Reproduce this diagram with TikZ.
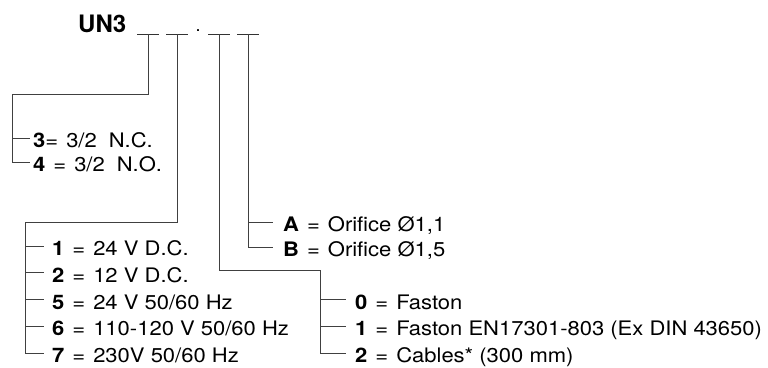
\documentclass[tikz,border=0pt]{standalone}
\usepackage{fontspec}
\setmainfont{TeX Gyre Heros}
\newfontfamily\lblfont[FakeStretch=1.1]{TeX Gyre Heros}
\newcommand{\iseq}{\hspace{0.4em}=\hspace{0.4em}}
\usetikzlibrary{positioning}

\begin{document}
\begin{tikzpicture}[x=1pt,y=-1pt,
  wire/.style={draw=black!75,line width=0.9pt},
  slot/.style={draw=black!80,line width=1pt},
  lbl/.style={anchor=west,inner sep=0pt,text height=19pt,text depth=0pt,
    font=\lblfont\fontsize{20}{24}\selectfont}]
  \useasboundingbox (0,0) rectangle (768,367);

  \node[anchor=base west,inner sep=0pt,font=\bfseries\fontsize{24}{28}\selectfont] (code) at (78,32) {UN3};
  \node[anchor=base,inner sep=0pt,font=\fontsize{18}{22}\selectfont] (dot) at (198,31) {.};

  \draw[slot] (137,34) -- (159,34);
  \draw[slot] (166,34) -- (188,34);
  \draw[slot] (208,34) -- (230,34);
  \draw[slot] (237,34) -- (259,34);
  \coordinate (d1) at (148,34);
  \coordinate (d2) at (177,34);
  \coordinate (d3) at (219,34);
  \coordinate (d4) at (248,34);

  % function
  \coordinate (k1) at (12,94);
  \node[lbl] (v3) at (33,138) {\textbf{3}=\hspace{0.4em}3/2\hspace{0.6em}N.C.};
  \node[lbl] (v4) at (33,162) {\textbf{4}\iseq 3/2\hspace{0.6em}N.O.};
  \draw[wire] (d1) |- (k1) |- ([xshift=-3pt]v4.west);
  \draw[wire] (k1 |- v3.west) -- ([xshift=-3pt]v3.west);

  % voltage
  \coordinate (k2) at (25,222);
  \node[lbl] (p1) at (52,246) {\textbf{1}\iseq 24 V D.C.};
  \node[lbl] (p2) at (52,272.75) {\textbf{2}\iseq 12 V D.C.};
  \node[lbl] (p5) at (52,299.5) {\textbf{5}\iseq 24 V 50/60 Hz};
  \node[lbl] (p6) at (52,326.25) {\textbf{6}\iseq 110-120 V 50/60 Hz};
  \node[lbl] (p7) at (52,353) {\textbf{7}\iseq 230V 50/60 Hz};
  \draw[wire] (d2) |- (k2) |- ([xshift=-8pt]p7.west);
  \draw[wire] (k2 |- p1.west) -- ([xshift=-8pt]p1.west);
  \draw[wire] (k2 |- p2.west) -- ([xshift=-8pt]p2.west);
  \draw[wire] (k2 |- p5.west) -- ([xshift=-8pt]p5.west);
  \draw[wire] (k2 |- p6.west) -- ([xshift=-8pt]p6.west);

  % connection
  \coordinate (k3) at (320,270);
  \node[lbl] (c0) at (355,299.5) {\textbf{0}\iseq Faston};
  \node[lbl] (c1) at (355,326.25) {\textbf{1}\iseq Faston EN17301-803 (Ex DIN 43650)};
  \node[lbl] (c2) at (355,353) {\textbf{2}\iseq Cables* (300 mm)};
  \draw[wire] (d3) |- (k3) |- ([xshift=-9pt]c2.west);
  \draw[wire] (k3 |- c0.west) -- ([xshift=-9pt]c0.west);
  \draw[wire] (k3 |- c1.west) -- ([xshift=-9pt]c1.west);

  % orifice
  \node[lbl] (rA) at (283,222) {\textbf{A}\iseq Orifice Ø1,1};
  \node[lbl] (rB) at (283,247) {\textbf{B}\iseq Orifice Ø1,5};
  \draw[wire] (d4) |- ([xshift=-10pt]rB.west);
  \draw[wire] (d4 |- rA.west) -- ([xshift=-10pt]rA.west);
\end{tikzpicture}
\end{document}
